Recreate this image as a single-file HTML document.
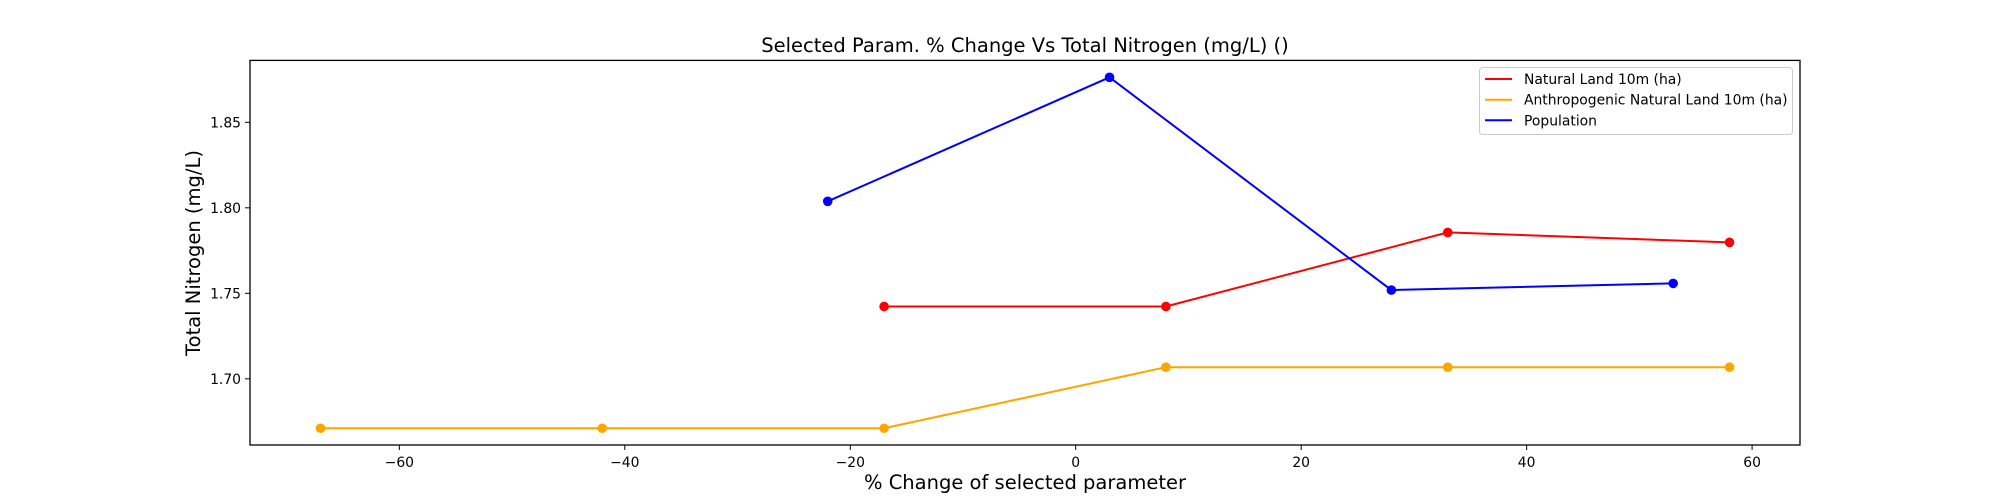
<!DOCTYPE html>
<html><head><meta charset="utf-8"><style>
html,body{margin:0;padding:0;background:#fff;}
svg{display:block;font-family:"DejaVu Sans","Liberation Sans",sans-serif;}
</style></head><body>
<svg id="chart" width="2000" height="500" viewBox="0 0 2000 500">
<rect x="0" y="0" width="2000" height="500" fill="#fff"/>
<text x="1025" y="52" font-size="19.5" text-anchor="middle">Selected Param. % Change Vs Total Nitrogen (mg/L) ()</text>
<g id="grid"></g>
<g id="series"></g>
<rect x="250" y="60.4" width="1550" height="384.6" fill="none" stroke="#000" stroke-width="1.3"/>
<text x="1025" y="489" font-size="19.5" text-anchor="middle">% Change of selected parameter</text>
<text transform="translate(200,253) rotate(-90)" font-size="19.5" text-anchor="middle">Total Nitrogen (mg/L)</text>
<g>
<rect x="1479.5" y="67.5" width="313" height="67" rx="3" fill="#fff" fill-opacity="0.8" stroke="#ccc" stroke-width="1"/>
<line x1="1485" y1="79" x2="1512" y2="79" stroke="#ff0000" stroke-width="2"/>
<text x="1524" y="84" font-size="13.9">Natural Land 10m (ha)</text>
<line x1="1485" y1="99.7" x2="1512" y2="99.7" stroke="#ffa500" stroke-width="2"/>
<text x="1524" y="104.7" font-size="13.9">Anthropogenic Natural Land 10m (ha)</text>
<line x1="1485" y1="120.3" x2="1512" y2="120.3" stroke="#0000ff" stroke-width="2"/>
<text x="1524" y="125.3" font-size="13.9">Population</text>
</g>
</svg>
<script>
const xTicks = [-60, -40, -20, 0, 20, 40, 60];
const yTicks = [1.70, 1.75, 1.80, 1.85];
const redX = [-17, 8, 33, 58];
const redY = [1.7423, 1.7423, 1.7856, 1.7798];
const orangeX = [-67, -42, -17, 8, 33, 58];
const orangeY = [1.6711, 1.6711, 1.6711, 1.7068, 1.7068, 1.7068];
const blueX = [-22, 3, 28, 53];
const blueY = [1.8038, 1.8763, 1.7519, 1.7558];

const L = 250, R = 1800, T = 60.4, B = 445;
const xMin = -73.25, xMax = 64.25, yMin = 1.6613, yMax = 1.8862;
const sx = v => L + (v - xMin) / (xMax - xMin) * (R - L);
const sy = v => B - (v - yMin) / (yMax - yMin) * (B - T);
const NS = 'http://www.w3.org/2000/svg';
const g = document.getElementById('grid');
const s = document.getElementById('series');

xTicks.forEach(t => {
  const x = sx(t);
  const ln = document.createElementNS(NS, 'line');
  ln.setAttribute('x1', x); ln.setAttribute('x2', x);
  ln.setAttribute('y1', B); ln.setAttribute('y2', B + 5);
  ln.setAttribute('stroke', '#000'); ln.setAttribute('stroke-width', '1');
  
  
  g.appendChild(ln);
  const tx = document.createElementNS(NS, 'text');
  tx.setAttribute('x', x); tx.setAttribute('y', B + 22);
  tx.setAttribute('font-size', '13.9'); tx.setAttribute('text-anchor', 'middle');
  tx.textContent = (t < 0 ? '\u2212' + Math.abs(t) : String(t));
  
  
  g.appendChild(tx);
});
yTicks.forEach(t => {
  const y = sy(t);
  const ln = document.createElementNS(NS, 'line');
  ln.setAttribute('x1', L - 5); ln.setAttribute('x2', L);
  ln.setAttribute('y1', y); ln.setAttribute('y2', y);
  ln.setAttribute('stroke', '#000'); ln.setAttribute('stroke-width', '1');
  
  
  g.appendChild(ln);
  const tx = document.createElementNS(NS, 'text');
  tx.setAttribute('x', L - 9); tx.setAttribute('y', y + 5);
  tx.setAttribute('font-size', '13.9'); tx.setAttribute('text-anchor', 'end');
  tx.textContent = t.toFixed(2);
  
  
  g.appendChild(tx);
});

function drawSeries(xs, ys, color, name) {
  const pl = document.createElementNS(NS, 'polyline');
  pl.setAttribute('points', xs.map((v, i) => sx(v) + ',' + sy(ys[i])).join(' '));
  pl.setAttribute('fill', 'none'); pl.setAttribute('stroke', color);
  pl.setAttribute('stroke-width', '2');
  
  
  s.appendChild(pl);
  xs.forEach((v, i) => {
    const c = document.createElementNS(NS, 'circle');
    c.setAttribute('cx', sx(v)); c.setAttribute('cy', sy(ys[i]));
    c.setAttribute('r', '4.8'); c.setAttribute('fill', color);
    
    
    s.appendChild(c);
  });
}
drawSeries(redX, redY, '#ff0000', 'natural-land');
drawSeries(orangeX, orangeY, '#ffa500', 'anthropogenic');
drawSeries(blueX, blueY, '#0000ff', 'population');
</script>
</body></html>
